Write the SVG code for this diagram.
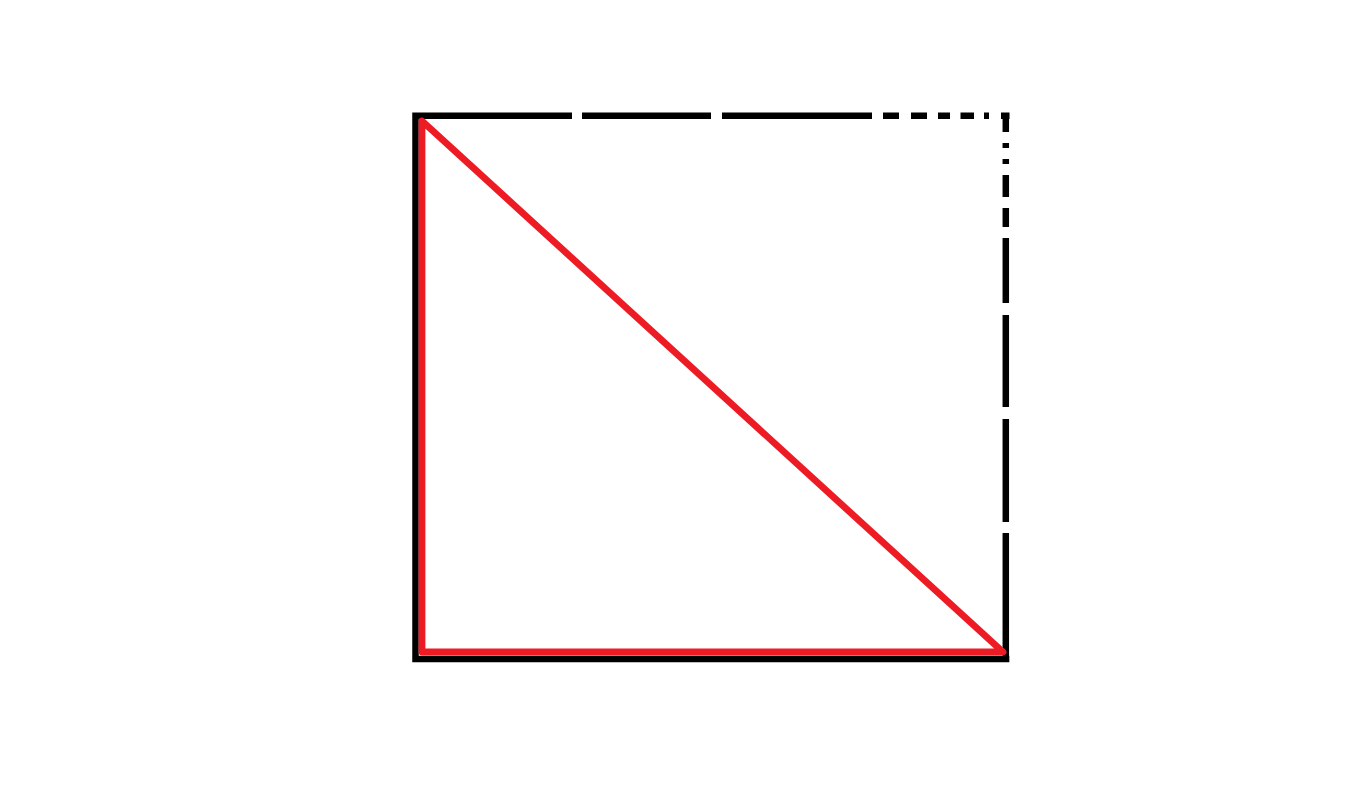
<svg xmlns="http://www.w3.org/2000/svg" width="1350" height="800" viewBox="0 0 1350 800">
<style>
.blk{fill:none;stroke:#000000;stroke-width:6.5;stroke-linecap:butt}
.red{fill:none;stroke:#ED1C24;stroke-width:6.8;stroke-linejoin:round;stroke-linecap:round}
</style>
<rect width="1350" height="800" fill="#ffffff"/>
<g id="square">
<path class="blk" d="M415.5 662 L415.5 115.8 L572 115.8 M582 115.8 L711 115.8 M722 115.8 L872 115.8 M883 115.8 L899 115.8 M911 115.8 L927 115.8 M938 115.8 L950 115.8 M960.5 115.8 L974 115.8 M984 115.8 L989 115.8 M1001 115.8 L1009.5 115.8 M412.3 659 L1009.3 659"/>
<path class="blk" d="M1005.8 113 L1005.8 132 M1005.8 143 L1005.8 148 M1005.8 159 L1005.8 164 M1005.8 175 L1005.8 197 M1005.8 208 L1005.8 227 M1005.8 238 L1005.8 303 M1005.8 315 L1005.8 407 M1005.8 419 L1005.8 522 M1005.8 533 L1005.8 662"/>
</g>
<g id="triangle">
<path class="red" d="M422 121 L1003 652 L422 652 Z"/>
</g>
</svg>
